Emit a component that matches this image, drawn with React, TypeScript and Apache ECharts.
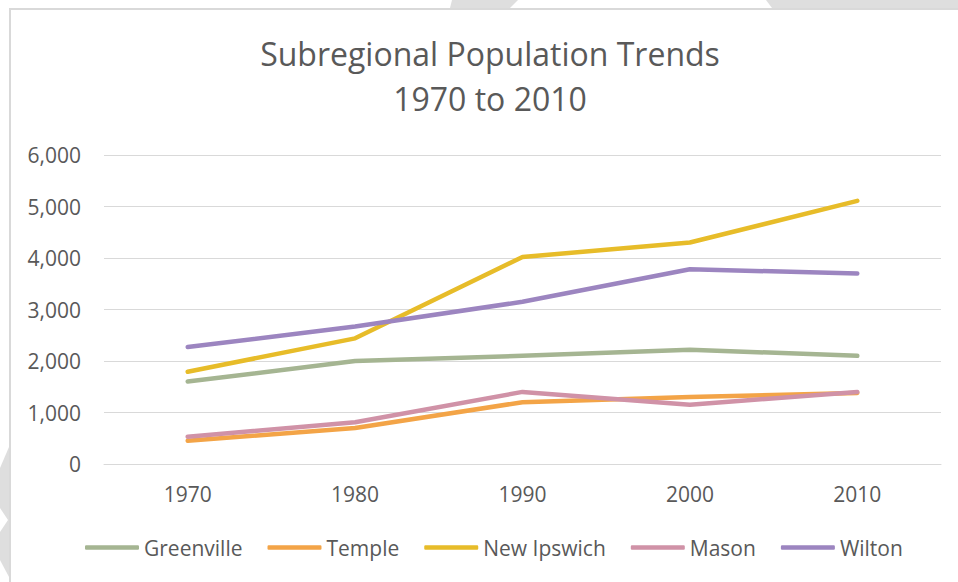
import React, { useEffect, useRef } from "react";
import * as echarts from "echarts";

const years = ["1970", "1980", "1990", "2000", "2010"];
const seriesNames = ["Greenville", "Temple", "New Ipswich", "Mason", "Wilton"];
const greenville = [1600, 2000, 2100, 2220, 2100];
const temple = [450, 700, 1200, 1300, 1380];
const newIpswich = [1790, 2440, 4020, 4300, 5110];
const mason = [530, 810, 1400, 1150, 1400];
const wilton = [2270, 2670, 3150, 3780, 3700];
const colors = ["#A5B592", "#F3A447", "#E7BC29", "#D092A7", "#9C85C0"];
const titleLines = ["Subregional Population Trends", "1970 to 2010"];

const FONT = "'Open Sans', 'DejaVu Sans', sans-serif";
const TEXT = "#595959";
const GRID = "#D9D9D9";
const DECOR = "#DEDEDE";

export default function App() {
  const ref = useRef<HTMLDivElement>(null);
  useEffect(() => {
    if (!ref.current) return;
    const chart = echarts.init(ref.current, undefined, { renderer: "svg" });
    const data = [greenville, temple, newIpswich, mason, wilton];
    chart.setOption({
      animation: false,
      backgroundColor: "#FFFFFF",
      textStyle: { fontFamily: FONT },
      grid: { left: 104, right: 17, top: 155, bottom: 118, containLabel: false },
      xAxis: {
        type: "category",
        data: years,
        boundaryGap: true,
        axisLine: { show: true, lineStyle: { color: GRID, width: 1 } },
        axisTick: { show: false },
        axisLabel: { color: TEXT, fontSize: 21, fontFamily: FONT, margin: 19 },
      },
      yAxis: {
        type: "value",
        min: 0,
        max: 6000,
        interval: 1000,
        axisLine: { show: false },
        axisTick: { show: false },
        splitLine: { lineStyle: { color: GRID, width: 1 } },
        axisLabel: {
          color: TEXT,
          fontSize: 21,
          fontFamily: FONT,
          margin: 23,
          formatter: (v: number) => v.toLocaleString("en-US"),
        },
      },
      legend: {
        left: 80,
        top: 532,
        padding: 5,
        itemWidth: 54,
        itemHeight: 4.5,
        itemGap: 25,
        icon: "roundRect",
        textStyle: { color: TEXT, fontSize: 21, fontFamily: FONT },
        data: seriesNames,
      },
      series: seriesNames.map((name, i) => ({
        name,
        type: "line",
        data: data[i],
        symbol: "none",
        showSymbol: false,
        color: colors[i],
        itemStyle: { color: colors[i] },
        lineStyle: { color: colors[i], width: 4.5, cap: "round", join: "round" },
      })),
      graphic: [
        {
          type: "polygon",
          shape: { points: [[452, 0], [518, 0], [510, 8], [450, 8]] },
          style: { fill: DECOR },
          silent: true,
        },
        {
          type: "polygon",
          shape: { points: [[766, 0], [958, 0], [958, 8], [772, 8]] },
          style: { fill: DECOR },
          silent: true,
        },
        {
          type: "polygon",
          shape: { points: [[0, 468], [9, 447], [9, 577], [0, 560]] },
          style: { fill: DECOR },
          silent: true,
        },
        {
          type: "polygon",
          shape: { points: [[0, 508], [8, 520], [0, 532]] },
          style: { fill: "#FFFFFF" },
          silent: true,
        },
        {
          type: "rect",
          shape: { x: 10, y: 9, width: 1000, height: 1000 },
          style: { fill: "none", stroke: GRID, lineWidth: 2 },
          silent: true,
        },
        {
          type: "text",
          x: 490,
          y: 53.5,
          style: {
            text: titleLines[0],
            fill: TEXT,
            font: `32px ${FONT}`,
            textAlign: "center",
            textVerticalAlign: "middle",
          },
        },
        {
          type: "text",
          x: 490,
          y: 98.5,
          style: {
            text: titleLines[1],
            fill: TEXT,
            font: `32px ${FONT}`,
            textAlign: "center",
            textVerticalAlign: "middle",
          },
        },
      ],
    });
    return () => chart.dispose();
  }, []);
  return (
    <div
      ref={ref}
      style={{ position: "fixed", left: 0, top: 0, width: 958, height: 582 }}
    />
  );
}
